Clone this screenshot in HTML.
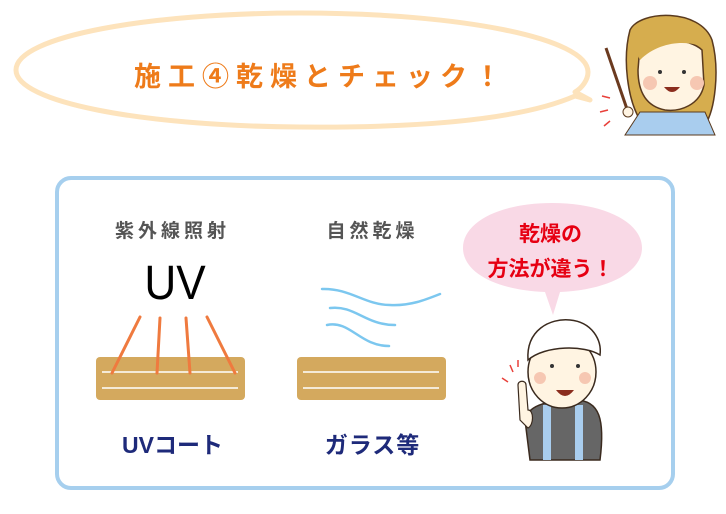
<!DOCTYPE html>
<html><head><meta charset="utf-8"><style>
html,body{margin:0;padding:0;background:#fff;width:726px;height:514px;overflow:hidden;position:relative}
.t{position:absolute;font-family:"Liberation Sans","Noto Sans CJK JP",sans-serif;white-space:nowrap;text-align:center}
</style></head><body>
<svg width="726" height="514" style="position:absolute;left:0;top:0">
<path d="M575,96 C520,120 420,128 300,127 C140,126 16,102 16,70 C16,36 150,13 300,13 C460,13 588,38 588,72 C588,80 582,88 575,92 L590,100 Z" fill="#fff" stroke="#fde3bc" stroke-width="5" stroke-linejoin="round"/>
<line x1="606" y1="48" x2="628" y2="112" stroke="#6b3a1f" stroke-width="3"/>
<path d="M630,30 C640,10 700,8 712,40 C720,70 715,110 705,125 L640,120 C628,100 622,60 630,30Z" fill="#d6ad4e" stroke="#5a3a1e" stroke-width="1.5"/>
<path d="M640,45 C650,35 690,38 702,50 L704,85 C700,105 680,112 665,110 C645,106 638,90 638,70Z" fill="#fff4e2" stroke="#5a3a1e" stroke-width="1.5"/>
<path d="M632,45 C650,30 680,25 705,48 C690,40 660,40 640,60Z" fill="#d6ad4e"/>
<circle cx="650" cy="83" r="7" fill="#f6c7b2"/><circle cx="697" cy="83" r="7" fill="#f6c7b2"/>
<circle cx="660" cy="72" r="2" fill="#333"/><circle cx="684" cy="72" r="2" fill="#333"/>
<path d="M664,87 Q672,97 680,87Z" fill="#8b2d1e"/>
<path d="M640,112 L705,112 L715,135 L625,135Z" fill="#a9cdee" stroke="#5a3a1e" stroke-width="1"/>
<circle cx="628" cy="112" r="5" fill="#fff4e2" stroke="#5a3a1e"/>
<g stroke="#e8403a" stroke-width="1.5"><line x1="602" y1="96" x2="610" y2="98"/><line x1="600" y1="112" x2="608" y2="110"/><line x1="604" y1="126" x2="610" y2="121"/></g>
<rect x="57" y="178" width="616" height="310" rx="14" fill="#fff" stroke="#a6cfee" stroke-width="4"/>
<rect x="96" y="357" width="149" height="43" rx="4" fill="#d4a95e"/>
<line x1="102" y1="372" x2="238" y2="372" stroke="#fff" stroke-width="1.5"/>
<line x1="102" y1="388" x2="238" y2="388" stroke="#fff" stroke-width="1.5"/>
<rect x="297" y="357" width="149" height="43" rx="4" fill="#d4a95e"/>
<line x1="303" y1="372" x2="439" y2="372" stroke="#fff" stroke-width="1.5"/>
<line x1="303" y1="388" x2="439" y2="388" stroke="#fff" stroke-width="1.5"/>
<g stroke="#ef7a3f" stroke-width="3" stroke-linecap="round">
<line x1="140" y1="317" x2="112" y2="373"/><line x1="160" y1="318" x2="157" y2="373"/>
<line x1="186" y1="318" x2="190" y2="373"/><line x1="207" y1="317" x2="235" y2="373"/></g>
<g stroke="#7cc7ef" stroke-width="2.5" fill="none" stroke-linecap="round">
<path d="M322,289 C350,288 365,305 390,305 C410,306 425,300 440,294"/>
<path d="M330,308 C355,305 365,325 395,325"/>
<path d="M327,325 C350,320 360,346 389,346"/></g>
<path d="M545,292 C495,290 463,272 463,248 C463,222 500,203 552,203 C604,203 642,222 642,248 C642,272 608,290 560,292 L553,315 Z" fill="#f9d9e6"/>
<path d="M525,420 C528,405 548,400 575,400 C600,400 605,420 600,460 L530,460Z" fill="#666" stroke="#3a2a1e" stroke-width="1.5"/>
<rect x="543" y="405" width="8" height="55" fill="#a9cdee"/><rect x="575" y="405" width="8" height="55" fill="#a9cdee"/>
<ellipse cx="562" cy="372" rx="34" ry="36" fill="#fff4e2" stroke="#3a2a1e" stroke-width="1.5"/>
<path d="M528,360 C526,330 550,318 570,320 C592,322 602,340 600,355 C585,345 545,345 528,360Z" fill="#fff" stroke="#3a2a1e" stroke-width="1.5"/>
<circle cx="540" cy="378" r="6" fill="#f6c7b2"/><circle cx="585" cy="378" r="6" fill="#f6c7b2"/>
<circle cx="552" cy="366" r="2" fill="#333"/><circle cx="578" cy="366" r="2" fill="#333"/>
<path d="M556,390 Q565,402 574,390Z" fill="#8b2d1e"/>
<path d="M520,420 L518,385 C518,380 526,380 526,385 L528,410 C534,410 534,425 528,428Z" fill="#fff4e2" stroke="#3a2a1e" stroke-width="1.2"/>
<g stroke="#e8403a" stroke-width="1.5"><line x1="502" y1="378" x2="508" y2="382"/><line x1="510" y1="365" x2="513" y2="372"/><line x1="518" y1="360" x2="518" y2="367"/></g>
</svg>
<div class="t" style="left:106px;top:55px;width:430px;font-size:27px;font-weight:bold;color:#ee7b1a;letter-spacing:7px">施工④乾燥とチェック！</div>
<div class="t" style="left:90px;top:216px;width:165px;font-size:19px;font-weight:bold;color:#555;letter-spacing:4px">紫外線照射</div>
<div class="t" style="left:290px;top:216px;width:165px;font-size:19px;font-weight:bold;color:#555;letter-spacing:4px">自然乾燥</div>
<div class="t" style="left:115px;top:256px;width:120px;font-size:48px;color:#000;transform:scaleX(0.92)">UV</div>
<div class="t" style="left:90px;top:426px;width:165px;font-size:23px;font-weight:bold;color:#1e2a7a">UVコート</div>
<div class="t" style="left:290px;top:426px;width:165px;font-size:23px;font-weight:bold;color:#1e2a7a;letter-spacing:1px">ガラス等</div>
<div class="t" style="left:468px;top:217px;width:165px;font-size:21px;font-weight:bold;color:#e60012;line-height:35px">乾燥の<br>方法が違う！</div>
</body></html>
